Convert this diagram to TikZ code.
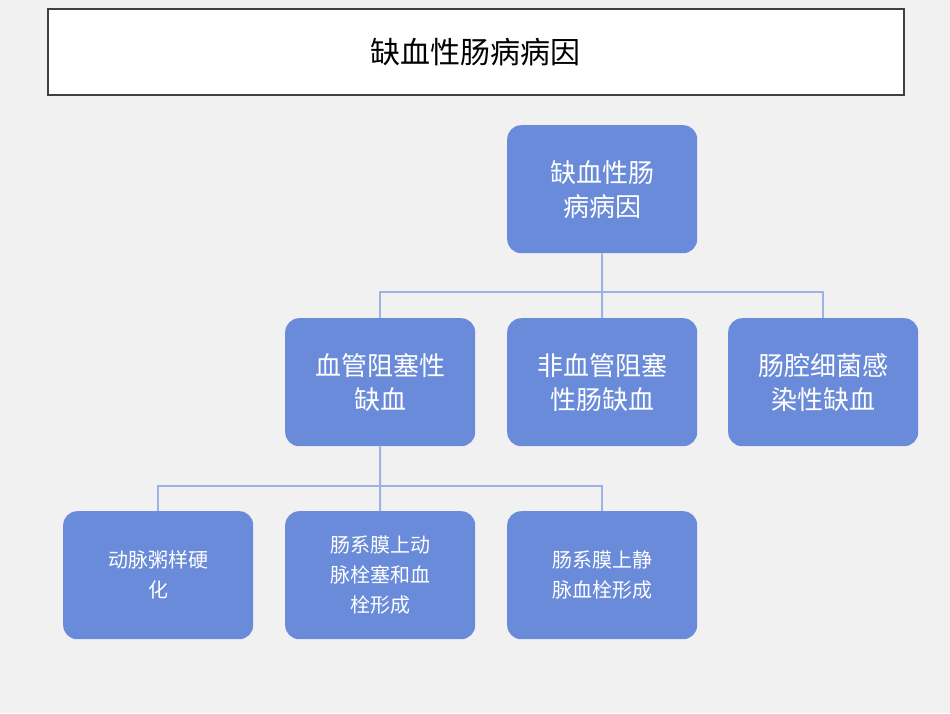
\documentclass[tikz,border=0pt]{standalone}
\usepackage{fontspec}
\newfontfamily\cjk{Noto Sans CJK SC}
\definecolor{bx}{HTML}{6A8BD9}
\definecolor{ln}{HTML}{9DB3E8}
\definecolor{bg}{HTML}{F1F1F1}
\begin{document}
\begin{tikzpicture}[x=1pt,y=-1pt,
 box/.style={draw=none,fill=bx,rounded corners=14pt,minimum width=190pt,minimum height=128pt,text width=170pt,align=center,text=white,font=\cjk\fontsize{26}{34}\selectfont,anchor=north west},
 sbox/.style={box,font=\cjk\fontsize{20}{30}\selectfont,text width=150pt},
 con/.style={draw=ln,line width=2pt}]
\useasboundingbox (0,0) rectangle (950,713);
\fill[bg] (0,0) rectangle (950,713);
\node[draw=black!75,line width=1.5pt,fill=white,minimum width=856pt,minimum height=86pt,anchor=north west,font=\cjk\fontsize{30}{36}\selectfont] (t) at (47,8) {缺血性肠病病因};
\node[box] (a) at (507,125) {缺血性肠\\病病因};
\node[box] (b1) at (285,318) {血管阻塞性\\缺血};
\node[box] (b2) at (507,318) {非血管阻塞\\性肠缺血};
\node[box] (b3) at (728,318) {肠腔细菌感\\染性缺血};
\node[sbox] (c1) at (63,511) {动脉粥样硬\\化};
\node[sbox] (c2) at (285,511) {肠系膜上动\\脉栓塞和血\\栓形成};
\node[sbox] (c3) at (507,511) {肠系膜上静\\脉血栓形成};
\coordinate (j1) at (602,292);
\coordinate (j2) at (380,486);
\draw[con] (a.south) -- (j1);
\draw[con] (b1.north) |- (j1) -| (b3.north);
\draw[con] (j1) -- (b2.north);
\draw[con] (b1.south) -- (j2);
\draw[con] (c1.north) |- (j2) -| (c3.north);
\draw[con] (j2) -- (c2.north);
\end{tikzpicture}
\end{document}
